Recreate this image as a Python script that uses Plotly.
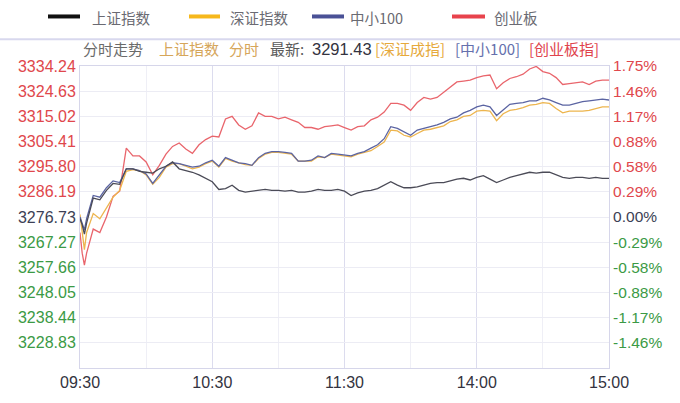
import plotly.graph_objects as go

# ---------------- data ----------------
minutes = [0, 1, 2, 3] + list(range(6, 241, 3))   # minutes since 09:30 (trading time)
time_tick_vals = [0, 60, 120, 180, 240]
time_tick_text = ["09:30", "10:30", "11:30", "14:00", "15:00"]

# percent change vs previous close
shanghai_pct = [
    -0.02, -0.09, -0.20, -0.07,
    0.22, 0.20, 0.31, 0.39, 0.38, 0.56, 0.56, 0.53, 0.52, 0.51, 0.56, 0.59, 0.64, 0.56, 0.54, 0.52, 0.49, 0.45, 0.41,
    0.32, 0.33, 0.37, 0.31, 0.29, 0.30, 0.31, 0.32, 0.31, 0.31, 0.30, 0.31, 0.29, 0.29, 0.30, 0.32, 0.31, 0.31, 0.32, 0.30,
    0.25, 0.28, 0.30, 0.31, 0.33, 0.37, 0.41, 0.37, 0.34, 0.34, 0.35, 0.37, 0.39, 0.40, 0.40, 0.42, 0.44, 0.45, 0.43, 0.46,
    0.48, 0.44, 0.40, 0.43, 0.46, 0.48, 0.50, 0.52, 0.51, 0.52, 0.52, 0.49, 0.46, 0.45, 0.46, 0.46, 0.45, 0.46, 0.45, 0.45,
]
shenzhen_pct = [
    0.03, -0.18, -0.38, -0.18,
    0.04, -0.02, 0.10, 0.23, 0.31, 0.53, 0.55, 0.54, 0.49, 0.38, 0.46, 0.58, 0.62, 0.62, 0.59, 0.56, 0.58, 0.62, 0.65,
    0.58, 0.68, 0.65, 0.63, 0.61, 0.60, 0.68, 0.73, 0.75, 0.75, 0.74, 0.73, 0.65, 0.65, 0.65, 0.70, 0.69, 0.73, 0.72, 0.71,
    0.70, 0.73, 0.75, 0.77, 0.82, 0.87, 1.01, 1.00, 0.95, 0.93, 0.97, 1.01, 1.02, 1.04, 1.06, 1.11, 1.13, 1.17, 1.18, 1.23,
    1.24, 1.23, 1.12, 1.20, 1.24, 1.25, 1.27, 1.30, 1.31, 1.33, 1.32, 1.26, 1.21, 1.23, 1.23, 1.23, 1.24, 1.26, 1.28, 1.28,
]
smallcap100_pct = [
    0.00, -0.07, -0.15, -0.02,
    0.25, 0.23, 0.34, 0.42, 0.40, 0.56, 0.56, 0.54, 0.50, 0.39, 0.49, 0.59, 0.63, 0.62, 0.60, 0.58, 0.59, 0.63, 0.66,
    0.59, 0.69, 0.66, 0.63, 0.62, 0.60, 0.69, 0.74, 0.76, 0.76, 0.75, 0.74, 0.65, 0.65, 0.66, 0.71, 0.69, 0.74, 0.73, 0.72,
    0.71, 0.74, 0.76, 0.80, 0.84, 0.91, 1.05, 1.03, 0.99, 0.95, 1.01, 1.03, 1.05, 1.07, 1.10, 1.14, 1.16, 1.21, 1.24, 1.28,
    1.30, 1.28, 1.18, 1.24, 1.31, 1.32, 1.33, 1.35, 1.35, 1.38, 1.36, 1.33, 1.30, 1.30, 1.32, 1.34, 1.35, 1.36, 1.37, 1.36,
]
chinext_pct = [
    -0.18, -0.42, -0.56, -0.42,
    -0.14, -0.18, 0.00, 0.24, 0.30, 0.80, 0.71, 0.71, 0.64, 0.49, 0.60, 0.73, 0.82, 0.86, 0.79, 0.74, 0.84, 0.90, 0.94,
    0.93, 1.14, 1.17, 1.07, 1.02, 1.06, 1.21, 1.17, 1.17, 1.14, 1.16, 1.13, 1.10, 1.04, 1.04, 1.02, 1.05, 1.06, 1.07, 1.04,
    1.01, 1.05, 1.06, 1.13, 1.16, 1.22, 1.32, 1.32, 1.30, 1.24, 1.33, 1.39, 1.37, 1.39, 1.45, 1.51, 1.57, 1.58, 1.59, 1.62,
    1.64, 1.65, 1.49, 1.56, 1.61, 1.63, 1.66, 1.72, 1.75, 1.69, 1.67, 1.62, 1.54, 1.55, 1.56, 1.57, 1.54, 1.58, 1.59, 1.59,
]

y_max_pct = 1.755
price_tick_text = ["3334.24", "3324.63", "3315.02", "3305.41", "3295.80", "3286.19", "3276.73",
                   "3267.27", "3257.66", "3248.05", "3238.44", "3228.83", ""]
pct_tick_text = ["1.75%", "1.46%", "1.17%", "0.88%", "0.58%", "0.29%", "0.00%",
                 "-0.29%", "-0.58%", "-0.88%", "-1.17%", "-1.46%", ""]
series_names = ["上证指数", "深证指数", "中小100", "创业板"]
latest_price = "3291.43"

for s in (shanghai_pct, shenzhen_pct, smallcap100_pct, chinext_pct):
    assert len(s) == len(minutes), len(s)

# ---------------- style ----------------
RED, GREEN, NEUT = "#e0474c", "#3b9a45", "#3c3f55"
line_colors = {"上证指数": "#4b4b57", "深证指数": "#edb54e", "中小100": "#5b64a2", "创业板": "#e9656c"}
legend_colors = {"上证指数": "#111111", "深证指数": "#f6b81c", "中小100": "#4a5196", "创业板": "#e8434c"}

tick_vals = [y_max_pct * (6 - i) / 6 for i in range(13)]


def colored(texts):
    out = []
    for i, t in enumerate(texts):
        c = RED if i < 6 else (NEUT if i == 6 else GREEN)
        out.append(f'<span style="color:{c}">{t}</span>' if t else "")
    return out


fig = go.Figure()
for name, vals in [("创业板", chinext_pct), ("深证指数", shenzhen_pct), ("中小100", smallcap100_pct)]:
    fig.add_trace(go.Scatter(x=minutes, y=vals, mode="lines", name=name, showlegend=False,
                             line=dict(color=line_colors[name], width=1.3), hoverinfo="skip", yaxis="y"))
fig.add_trace(go.Scatter(x=minutes, y=shanghai_pct, mode="lines", name="上证指数", showlegend=False,
                         line=dict(color=line_colors["上证指数"], width=1.3), hoverinfo="skip", yaxis="y2"))

axis_line = "#d6d6ea"
fig.update_layout(
    width=680, height=403,
    margin=dict(l=80, r=71, t=66, b=20),
    paper_bgcolor="white", plot_bgcolor="white",
    font=dict(family="Liberation Sans, Arial, sans-serif"),
    xaxis=dict(range=[0, 240], tickmode="array", tickvals=time_tick_vals, ticktext=time_tick_text,
               showgrid=True, gridcolor="#dcdcee", gridwidth=1, zeroline=False,
               showline=True, linecolor=axis_line, linewidth=1, mirror=True, ticks="",
               tickfont=dict(size=16, color="#333340"),
               minor=dict(tickvals=[30, 90, 150, 210], showgrid=True, gridcolor="#efeff6", gridwidth=1)),
    yaxis=dict(range=[-y_max_pct, y_max_pct], tickmode="array", tickvals=tick_vals,
               ticktext=colored(price_tick_text), showgrid=True, gridcolor="#ececf4", zeroline=False,
               showline=True, linecolor=axis_line, ticks="", tickfont=dict(size=16)),
    yaxis2=dict(range=[-y_max_pct, y_max_pct], overlaying="y", side="right", tickmode="array",
                tickvals=tick_vals, ticktext=colored(pct_tick_text), showgrid=False, zeroline=False,
                showline=True, linecolor=axis_line, ticks="", tickfont=dict(size=15.5)),
    showlegend=False,
)

# ---- legend drawn at the top ----
cjk = "Noto Sans CJK SC"
H = 317.0  # plot height in px
W = 529.0  # plot width in px
def px_x(p):
    return (p - 80) / W
def px_y(p):
    return (383 - p) / H

legend_pos = [(48, 80, 90), (189, 220, 228), (312, 344, 348), (452, 485, 492)]
for name, (x0, x1, tx) in zip(series_names, legend_pos):
    fig.add_shape(type="line", xref="paper", yref="paper", x0=px_x(x0), x1=px_x(x1),
                  y0=px_y(14), y1=px_y(14), line=dict(color=legend_colors[name], width=4))
    fig.add_annotation(xref="paper", yref="paper", x=px_x(tx), y=px_y(15), xanchor="left", yanchor="middle",
                       text=name, showarrow=False, font=dict(family=cjk, size=14.5, color="#6a6a72"))

fig.add_shape(type="line", xref="paper", yref="paper", x0=px_x(0), x1=px_x(680),
              y0=px_y(38), y1=px_y(38), line=dict(color="#d8d8ee", width=2))

# ---- header line ----
header = [
    ("分时走势", 81, "#6a6a6a", cjk, 15),
    ("上证指数", 157, "#d6a65a", cjk, 15),
    ("分时", 227, "#d6a65a", cjk, 15),
    ("最新:", 268, "#5a5a5a", cjk, 15),
    (latest_price, 310, "#333340", "Liberation Sans, Arial", 16.5),
    ("[深证成指]", 373, "#e6a93c", cjk, 15),
    ("[中小100]", 453, "#6570ad", cjk, 15),
    ("[创业板指]", 527, "#e0434c", cjk, 15),
]
for txt, xp, col, fam, sz in header:
    fig.add_annotation(xref="paper", yref="paper", x=px_x(xp), y=px_y(48), xanchor="left", yanchor="middle",
                       text=txt, showarrow=False, font=dict(family=fam, size=sz, color=col))

fig.write_html("out.html", config={"displayModeBar": False},
               post_script="document.body.style.margin='0';document.body.style.overflow='hidden';")
